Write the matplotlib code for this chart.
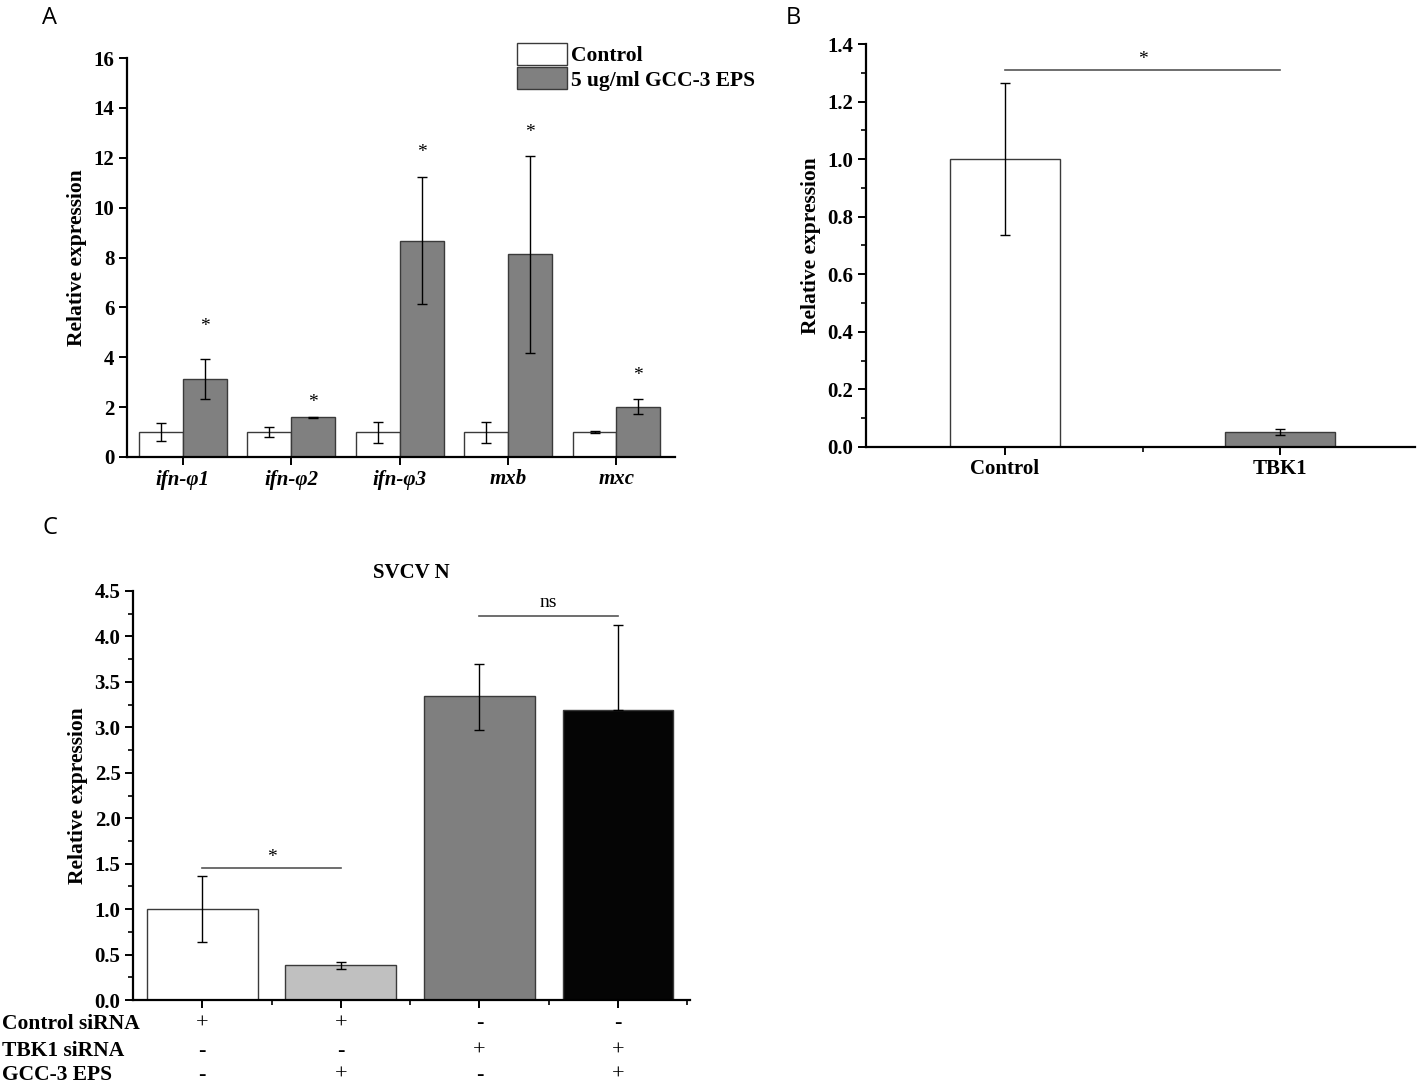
import numpy as np
import matplotlib
matplotlib.use('Agg')
import matplotlib.pyplot as plt
from matplotlib.patches import Patch
from matplotlib.ticker import MultipleLocator, FormatStrFormatter

# Panel A data
genes = ['ifn-φ1', 'ifn-φ2', 'ifn-φ3', 'mxb', 'mxc']
ctrl_mean = [1.0, 1.0, 1.0, 1.0, 1.0]
ctrl_err = [0.37, 0.20, 0.42, 0.42, 0.03]
eps_mean = [3.13, 1.59, 8.67, 8.13, 2.01]
eps_err = [0.80, 0.03, 2.55, 3.95, 0.30]
star_a = [5.25, 2.2, 12.2, 13.0, 3.25]

# Panel B data
b_labels = ['Control', 'TBK1']
b_mean = [1.0, 0.052]
b_err = [0.265, 0.010]

# Panel C data
c_mean = [1.0, 0.38, 3.34, 3.19]
c_err_low = [0.36, 0.04, 0.37, 0.0]   # lower whisker of the black bar is hidden
c_err_up = [0.36, 0.04, 0.36, 0.94]
c_colors = ['white', '#c0c0c0', '#7f7f7f', '#050505']
row_names = ['Control siRNA', 'TBK1 siRNA', 'GCC-3 EPS']
row_signs = [['+', '+', '-', '-'],
             ['-', '-', '+', '+'],
             ['-', '+', '-', '+']]

W, H = 1417, 1086
plt.rcParams['font.family'] = 'Liberation Serif'
plt.rcParams['font.weight'] = 'bold'
plt.rcParams['axes.labelweight'] = 'bold'
plt.rcParams['axes.titleweight'] = 'bold'
fig = plt.figure(figsize=(W / 100, H / 100), dpi=100)


def px_axes(left, right, bottom, top):
    return fig.add_axes([left / W, 1 - bottom / H, (right - left) / W, (bottom - top) / H])


def style(ax):
    for s in ['top', 'right']:
        ax.spines[s].set_visible(False)
    for s in ['left', 'bottom']:
        ax.spines[s].set_linewidth(1.6)
    ax.tick_params(width=1.4, length=6, labelsize=15, direction='out', pad=3)
    ax.tick_params(which='minor', width=1.2, length=3.5)


edge = '#3a3a3a'
ekw = dict(ecolor='black', elinewidth=1, capsize=3.5, capthick=1)

# ---- A ----
axA = px_axes(127, 675, 457, 58)
x = np.arange(len(genes))
bw = 0.405
axA.bar(x - bw / 2, ctrl_mean, bw, yerr=ctrl_err, color='white', edgecolor=edge,
        linewidth=1, error_kw=ekw)
axA.bar(x + bw / 2, eps_mean, bw, yerr=eps_err, color='#808080', edgecolor=edge,
        linewidth=1, error_kw=ekw)
for xi, sy in zip(x, star_a):
    axA.text(xi + bw / 2, sy, '*', ha='center', va='center', fontsize=14, fontweight='normal')
axA.set_xlim(-0.516, 4.54)
axA.set_ylim(0, 16)
axA.yaxis.set_major_locator(MultipleLocator(2))
axA.set_xticks(x)
axA.set_xticklabels(genes, fontstyle='italic', fontsize=16)
axA.set_ylabel('Relative expression', fontsize=15.5, labelpad=5)
style(axA)
axA.legend(handles=[Patch(facecolor='white', edgecolor=edge, label='Control'),
                    Patch(facecolor='#808080', edgecolor=edge, label='5 ug/ml GCC-3 EPS')],
           loc='upper left', bbox_to_anchor=(517 / W, 1 - 43 / H), bbox_transform=fig.transFigure,
           frameon=False, fontsize=15.5, handlelength=2.3, handleheight=1.2,
           handletextpad=0.2, labelspacing=0.05, borderpad=0, borderaxespad=0)

# ---- B ----
axB = px_axes(866, 1415, 447, 44)
xb = np.arange(len(b_labels))
axB.bar(xb, b_mean, 0.4, yerr=b_err, color=['white', '#808080'], edgecolor=edge,
        linewidth=1, error_kw=ekw)
axB.set_xlim(-0.505, 1.49)
axB.set_ylim(0, 1.4)
axB.yaxis.set_major_locator(MultipleLocator(0.2))
axB.yaxis.set_minor_locator(MultipleLocator(0.1))
axB.yaxis.set_major_formatter(FormatStrFormatter('%.1f'))
axB.set_xticks(xb)
axB.set_xticks([0.5], minor=True)
axB.set_xticklabels(b_labels, fontsize=16)
axB.set_ylabel('Relative expression', fontsize=15.5, labelpad=5)
style(axB)
axB.plot([0, 1], [1.31, 1.31], color='#555555', lw=1.2)
axB.text(0.5, 1.345, '*', ha='center', va='center', fontsize=14, fontweight='normal')

# ---- C ----
axC = px_axes(133, 690, 1000, 591)
xc = np.arange(len(c_mean))
axC.bar(xc, c_mean, 0.8, yerr=[c_err_low, c_err_up], color=c_colors, edgecolor=edge,
        linewidth=1, error_kw=ekw)
axC.set_xlim(-0.5, 3.52)
axC.set_ylim(0, 4.5)
axC.yaxis.set_major_locator(MultipleLocator(0.5))
axC.yaxis.set_minor_locator(MultipleLocator(0.25))
axC.yaxis.set_major_formatter(FormatStrFormatter('%.1f'))
axC.set_xticks(xc)
axC.set_xticklabels([])
axC.set_xticks([0.5, 1.5, 2.5, 3.5], minor=True)
axC.set_ylabel('Relative expression', fontsize=15.5, labelpad=5)
axC.set_title('SVCV N', fontsize=15, pad=9)
style(axC)
axC.plot([0, 1], [1.45, 1.45], color='#555555', lw=1.2)
axC.text(0.5, 1.57, '*', ha='center', va='center', fontsize=14, fontweight='normal')
axC.plot([2, 3], [4.22, 4.22], color='#555555', lw=1.2)
axC.text(2.5, 4.37, 'ns', ha='center', va='center', fontsize=14, fontweight='normal')

# treatment table under panel C
row_y = [1024, 1051, 1075]
for name, signs, ry in zip(row_names, row_signs, row_y):
    fig.text(2 / W, 1 - ry / H, name, ha='left', va='center', fontsize=15.5)
    for xi, s in zip(xc, signs):
        xf = axC.transData.transform((xi, 0))[0] / W
        fig.text(xf, 1 - ry / H, s, ha='center', va='center', fontsize=16, fontweight='normal')

# panel letters
for letter, lx, ly in [('A', 50, 18), ('B', 793, 18), ('C', 50, 528)]:
    fig.text(lx / W, 1 - ly / H, letter, ha='center', va='center', fontsize=17,
             family='Open Sans', fontweight='normal')

fig.savefig('out.png', dpi=100)
